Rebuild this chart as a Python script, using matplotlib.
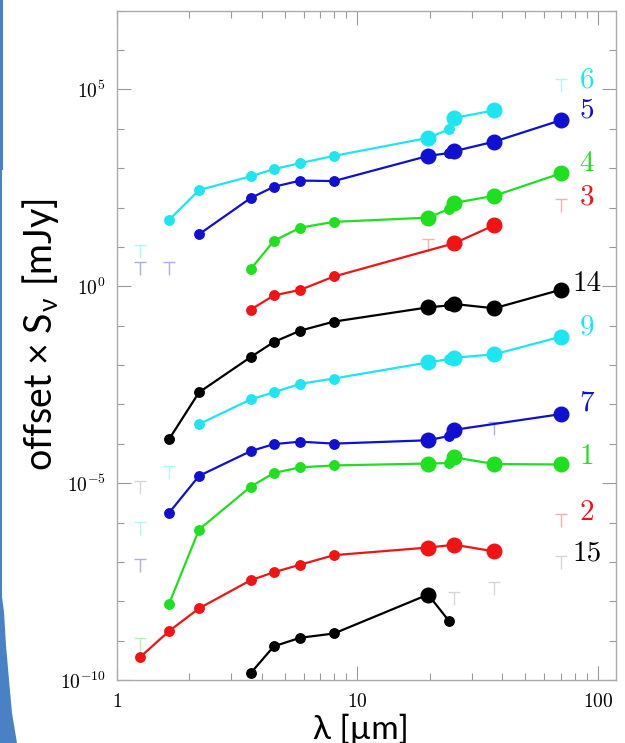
import numpy as np
import matplotlib
matplotlib.use("Agg")
import matplotlib.pyplot as plt
from matplotlib.path import Path
from matplotlib.patches import Polygon
from matplotlib.ticker import FixedLocator, NullFormatter

plt.rcParams['mathtext.fontset'] = 'cm'

# wavelengths [um] and log10(offset x flux)
s6_wl = [1.65, 2.2, 3.6, 4.5, 5.8, 8.0, 19.7, 24.0, 25.3, 37.1]
s6_lf = [1.684, 2.444, 2.793, 2.974, 3.131, 3.312, 3.770, 3.987, 4.276, 4.469]
s5_wl = [2.2, 3.6, 4.5, 5.8, 8.0, 19.7, 24.0, 25.3, 37.1, 70.0]
s5_lf = [1.322, 2.239, 2.528, 2.685, 2.673, 3.312, 3.384, 3.432, 3.674, 4.216]
s4_wl = [3.6, 4.5, 5.8, 8.0, 19.7, 24.0, 25.3, 37.1, 70.0]
s4_lf = [0.430, 1.153, 1.491, 1.636, 1.744, 1.961, 2.118, 2.299, 2.866]
s3_wl = [3.6, 4.5, 5.8, 8.0, 25.3, 37.1]
s3_lf = [-0.595, -0.233, -0.089, 0.249, 1.093, 1.551]
s14_wl = [1.65, 2.2, 3.6, 4.5, 5.8, 8.0, 19.7, 24.0, 25.3, 37.1, 70.0]
s14_lf = [-3.887, -2.693, -1.801, -1.415, -1.126, -0.897, -0.535, -0.487, -0.450, -0.559, -0.089]
s9_wl = [2.2, 3.6, 4.5, 5.8, 8.0, 19.7, 24.0, 25.3, 37.1, 70.0]
s9_lf = [-3.501, -2.874, -2.693, -2.476, -2.343, -1.933, -1.849, -1.813, -1.729, -1.282]
s7_wl = [1.65, 2.2, 3.6, 4.5, 5.8, 8.0, 19.7, 24.0, 25.3, 70.0]
s7_lf = [-5.756, -4.816, -4.189, -4.008, -3.947, -3.996, -3.911, -3.803, -3.646, -3.248]
s1_wl = [1.65, 2.2, 3.6, 4.5, 5.8, 8.0, 19.7, 24.0, 25.3, 37.1, 70.0]
s1_lf = [-8.071, -6.178, -5.093, -4.743, -4.598, -4.550, -4.502, -4.490, -4.345, -4.514, -4.526]
s2_wl = [1.25, 1.65, 2.2, 3.6, 4.5, 5.8, 8.0, 19.7, 25.3, 37.1]
s2_lf = [-9.422, -8.759, -8.180, -7.468, -7.263, -7.070, -6.829, -6.636, -6.564, -6.733]
s15_wl = [3.6, 4.5, 5.8, 8.0, 19.7, 24.0]
s15_lf = [-9.832, -9.144, -8.927, -8.819, -7.830, -8.493]

# upper limits
s6_ul_wl, s6_ul_lf = [1.25, 70.0], [0.90, 5.11]
s5_ul_wl, s5_ul_lf = [1.25, 1.65], [0.47, 0.47]
s3_ul_wl, s3_ul_lf = [19.7, 70.0], [1.04, 2.06]
s14_ul_wl, s14_ul_lf = [1.25], [-5.10]
s9_ul_wl, s9_ul_lf = [1.25, 1.65], [-6.15, -4.72]
s7_ul_wl, s7_ul_lf = [1.25, 37.1], [-7.09, -3.60]
s1_ul_wl, s1_ul_lf = [1.25], [-9.09]
s2_ul_wl, s2_ul_lf = [70.0], [-5.94]
s15_ul_wl, s15_ul_lf = [25.3, 37.1, 70.0], [-7.92, -7.67, -7.00]

labels = ['6', '5', '4', '3', '14', '9', '7', '1', '2', '15']
label_lf = [5.24, 4.47, 3.11, 2.26, 0.07, -1.03, -2.98, -4.33, -5.76, -6.78]

big_bands = [19.7, 25.3, 37.1, 70.0]

cyan = '#1ee6f0'
blue = '#1010d0'
green = '#1ee01e'
red = '#f01414'
black = '#000000'

series = [
    (s6_wl, s6_lf, s6_ul_wl, s6_ul_lf, cyan),
    (s5_wl, s5_lf, s5_ul_wl, s5_ul_lf, blue),
    (s4_wl, s4_lf, [], [], green),
    (s3_wl, s3_lf, s3_ul_wl, s3_ul_lf, red),
    (s14_wl, s14_lf, s14_ul_wl, s14_ul_lf, black),
    (s9_wl, s9_lf, s9_ul_wl, s9_ul_lf, cyan),
    (s7_wl, s7_lf, s7_ul_wl, s7_ul_lf, blue),
    (s1_wl, s1_lf, s1_ul_wl, s1_ul_lf, green),
    (s2_wl, s2_lf, s2_ul_wl, s2_ul_lf, red),
    (s15_wl, s15_lf, s15_ul_wl, s15_ul_lf, black),
]

tee = Path([(-0.5, 0.5), (0.5, 0.5), (0, 0.5), (0, -0.6)],
           [Path.MOVETO, Path.LINETO, Path.MOVETO, Path.LINETO])

fig = plt.figure(figsize=(6.25, 7.43), dpi=100)
ax = fig.add_axes([0.1867, 0.0848, 0.7989, 0.9008])

for (wl, lf, ulw, ulf, c), lab, ly in zip(series, labels, label_lf):
    wl = np.array(wl)
    f = 10 ** np.array(lf)
    big = np.isin(wl, big_bands)
    ax.plot(wl, f, '-', color=c, lw=1.6, zorder=2)
    ax.plot(wl[~big], f[~big], 'o', color=c, ms=6.8, zorder=3)
    ax.plot(wl[big], f[big], 'o', color=c, ms=10.5, zorder=4)
    if ulw:
        ulc = '#888888' if c == black else c
        ax.plot(ulw, 10 ** np.array(ulf), linestyle='none', marker=tee, ms=10,
                mfc='none', mec=ulc, mew=1.0, alpha=0.35, zorder=1)
    ax.text(90, 10 ** ly, lab, color=c, fontsize=21, family='cmr10',
            ha='center', va='center', clip_on=False)

ax.set_xscale('log')
ax.set_yscale('log')
ax.set_xlim(1, 119)
ax.set_ylim(1e-10, 1e7)

ax.set_xticks([1, 10, 100])
ax.set_xticklabels(['$1$', '$10$', '$100$'])
ax.set_yticks([1e-10, 1e-5, 1e0, 1e5])
ax.set_yticklabels(['$10^{-10}$', '$10^{-5}$', '$10^{0}$', '$10^{5}$'])
ax.yaxis.set_minor_locator(FixedLocator([10.0 ** k for k in range(-10, 8) if k % 5]))
ax.yaxis.set_minor_formatter(NullFormatter())
ax.xaxis.set_minor_formatter(NullFormatter())

ax.tick_params(which='both', direction='in', top=True, right=True, color='#999999')
ax.tick_params(which='major', length=10, width=0.8)
ax.tick_params(which='minor', length=5, width=0.8)
ax.tick_params(axis='x', pad=9, labelsize=14)
ax.tick_params(axis='y', pad=8, labelsize=14)
for sp in ax.spines.values():
    sp.set_color('#aaaaaa')
    sp.set_linewidth(1.0)

ax.set_xlabel(r'λ [µm]', family='Lato', fontsize=24, va='center')
ax.xaxis.set_label_coords(0.489, -0.073)
ax.set_ylabel(r'offset × S$_{\mathregular{ν}}$ [mJy]', family='Lato', fontsize=27,
              va='center')
ax.yaxis.set_label_coords(-0.152, 0.517)

# slide background strip on the left
px = lambda x, y: (x / 625, 1 - y / 743)
strip = [px(0, 0), px(3, 0), px(3, 170), px(2, 170), px(2, 597), px(4, 612), px(6, 645),
         px(9, 680), px(12, 713), px(17, 743), px(0, 743)]
fig.patches.append(Polygon(strip, closed=True, transform=fig.transFigure,
                           facecolor='#4a80c4', edgecolor='none'))

fig.savefig('out.png', dpi=100)
